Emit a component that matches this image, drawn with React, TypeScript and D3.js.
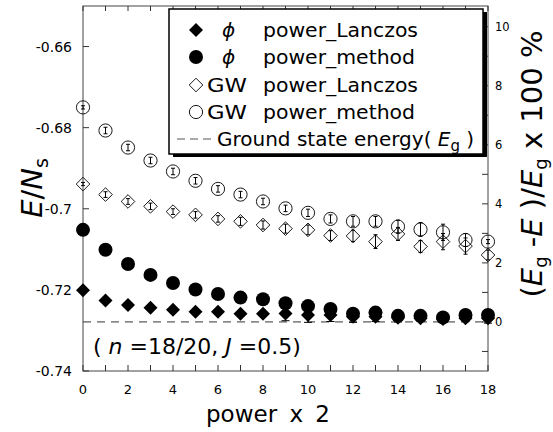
import React from "react";
import * as d3 from "d3";

// ---- data ----
const powerSteps = [0, 1, 2, 3, 4, 5, 6, 7, 8, 9, 10, 11, 12, 13, 14, 15, 16, 17, 18];
const phiLanczos = [-0.7201, -0.7226, -0.7237, -0.7244, -0.7249, -0.7254, -0.7254, -0.7259, -0.7259, -0.7258, -0.7262, -0.7262, -0.7266, -0.7266, -0.7269, -0.727, -0.7272, -0.727, -0.727];
const phiMethod = [-0.7052, -0.7101, -0.7136, -0.7163, -0.7183, -0.7199, -0.721, -0.7219, -0.7223, -0.7233, -0.724, -0.7247, -0.7259, -0.7256, -0.7264, -0.7264, -0.7268, -0.7262, -0.7262];
const gwLanczos = [-0.6939, -0.6965, -0.6982, -0.6994, -0.7007, -0.7015, -0.7025, -0.7031, -0.704, -0.7049, -0.7052, -0.7066, -0.7067, -0.7081, -0.7062, -0.7093, -0.7081, -0.7092, -0.7114];
const gwMethod = [-0.675, -0.6807, -0.6849, -0.6881, -0.6908, -0.6931, -0.6951, -0.6965, -0.6982, -0.6999, -0.701, -0.7025, -0.7031, -0.7031, -0.7044, -0.7051, -0.7058, -0.7077, -0.7081];
const gwLanczosErr = [0.0004, 0.0007, 0.0007, 0.0008, 0.0007, 0.0008, 0.0008, 0.001, 0.001, 0.0011, 0.0012, 0.0012, 0.0014, 0.0017, 0.0016, 0.0015, 0.002, 0.002, 0.0012];
const gwMethodErr = [0.0004, 0.0008, 0.0008, 0.0008, 0.0008, 0.0008, 0.0008, 0.0008, 0.0008, 0.0008, 0.0009, 0.001, 0.0012, 0.0012, 0.0016, 0.0017, 0.002, 0.0016, 0.0005];
const phiLanczosErr = [0, 0, 0, 0, 0, 0, 0, 0, 0, 0.0018, 0.0018, 0.0016, 0.0014, 0.0012, 0.001, 0.0008, 0.0006, 0.0008, 0.0012];
const groundEnergy = -0.7279;

const xTickLabels = [0, 2, 4, 6, 8, 10, 12, 14, 16, 18];
const yTickValues = [-0.74, -0.72, -0.7, -0.68, -0.66];
const yTickLabels = ["-0.74", "-0.72", "-0.7", "-0.68", "-0.66"];
const rightTickValues = [-1, 0, 1, 2, 3, 4, 5, 6, 7, 8, 9, 10];
const rightTickLabels = [0, 2, 4, 6, 8, 10];

const FONT = "'DejaVu Sans', Verdana, sans-serif";

const diamond = (r: number) => `M0,${-r}L${r},0L0,${r}L${-r},0Z`;

export default function App() {
  const left = 83, right = 488, top = 6, bottom = 371;
  const x = d3.scaleLinear().domain([0, 18]).range([left, right]);
  const y = d3.scaleLinear().domain([-0.74, -0.65]).range([bottom, top]);
  const pct = (e: number) => ((groundEnergy - e) / groundEnergy) * 100;
  const yR = d3.scaleLinear().domain([pct(-0.74), pct(-0.65)]).range([bottom, top]);

  const errBar = (xi: number, v: number, e: number, key: string, cap = 2) => {
    if (!e) return null;
    const cx = x(xi), y1 = y(v - e), y2 = y(v + e);
    return (
      <g key={key} stroke="#000" strokeWidth={1}>
        <line x1={cx} x2={cx} y1={y1} y2={y2} />
        <line x1={cx - cap} x2={cx + cap} y1={y1} y2={y1} />
        <line x1={cx - cap} x2={cx + cap} y1={y2} y2={y2} />
      </g>
    );
  };

  return (
    <svg width={553} height={432} style={{ position: "absolute", left: 0, top: 0, background: "#fff" }} fontFamily={FONT}>
      <rect width={553} height={432} fill="#fff" />
      {/* frame */}
      <rect x={left} y={top} width={right - left} height={bottom - top} fill="none" stroke="#444" strokeWidth={1} />
      {/* bottom & top ticks */}
      {powerSteps.map((t) => (
        <g key={"xt" + t} stroke="#333" strokeWidth={1}>
          <line x1={x(t)} x2={x(t)} y1={bottom} y2={bottom - 6} />
          <line x1={x(t)} x2={x(t)} y1={top} y2={top + 5} />
        </g>
      ))}
      {xTickLabels.map((t) => (
        <text key={"xl" + t} x={x(t)} y={394} fontSize={13} textAnchor="middle" fill="#000">{t}</text>
      ))}
      {/* left ticks */}
      {yTickValues.map((v, i) => (
        <g key={"yt" + i}>
          <line x1={left} x2={left + 6} y1={y(v)} y2={y(v)} stroke="#333" />
          <text x={72} y={y(v) + 5} fontSize={14} textAnchor="end" fill="#000">{yTickLabels[i]}</text>
        </g>
      ))}
      {/* right ticks */}
      {rightTickValues.map((p) => (
        <line key={"rt" + p} x1={right} x2={right - 6} y1={yR(p)} y2={yR(p)} stroke="#333" />
      ))}
      {rightTickLabels.map((p) => (
        <text key={"rl" + p} x={495} y={yR(p) + 4} fontSize={11.5} fill="#000">{p}</text>
      ))}

      {/* ground state line */}
      <line x1={left} x2={right} y1={y(groundEnergy)} y2={y(groundEnergy)} stroke="#333" strokeWidth={1} strokeDasharray="8,6" />

      {/* GW power_method open circles */}
      {powerSteps.map((s, i) => (
        <circle key={"gm" + i} cx={x(s)} cy={y(gwMethod[i])} r={6.6} fill="none" stroke="#000" strokeWidth={0.9} />
      ))}
      {powerSteps.map((s, i) => errBar(s, gwMethod[i], gwMethodErr[i], "gme" + i))}
      {/* GW power_Lanczos open diamonds */}
      {powerSteps.map((s, i) => (
        <path key={"gl" + i} d={diamond(6.8)} transform={`translate(${x(s)},${y(gwLanczos[i])})`} fill="none" stroke="#000" strokeWidth={0.9} />
      ))}
      {powerSteps.map((s, i) => errBar(s, gwLanczos[i], gwLanczosErr[i], "gle" + i))}
      {/* phi power_Lanczos filled diamonds */}
      {powerSteps.map((s, i) => errBar(s, phiLanczos[i], phiLanczosErr[i], "ple" + i, 4))}
      {powerSteps.map((s, i) => (
        <path key={"pl" + i} d={diamond(7)} transform={`translate(${x(s)},${y(phiLanczos[i])})`} fill="#000" />
      ))}
      {/* phi power_method filled circles */}
      {powerSteps.map((s, i) => (
        <circle key={"pm" + i} cx={x(s)} cy={y(phiMethod[i])} r={7} fill="#000" />
      ))}

      {/* annotation */}
      <text x={93} y={354} fontSize={22} fill="#000">
        {"( "}<tspan fontStyle="italic">n</tspan>{" =18/20, "}<tspan fontStyle="italic">J</tspan>{" =0.5)"}
      </text>

      {/* legend */}
      <rect x={173} y={12} width={314} height={145} fill="#000" />
      <rect x={169} y={9} width={314} height={145} fill="#fff" stroke="#000" strokeWidth={1.5} />
      <path d={diamond(7)} transform="translate(196,30)" fill="#000" />
      <circle cx={196} cy={57} r={7} fill="#000" />
      <path d={diamond(6.8)} transform="translate(196,85)" fill="none" stroke="#000" strokeWidth={0.9} />
      <circle cx={196} cy={112} r={6.6} fill="none" stroke="#000" strokeWidth={0.9} />
      <line x1={177} x2={215} y1={139} y2={139} stroke="#555" strokeDasharray="8,5" />
      <g fontSize={20} fill="#000">
        <text x={222} y={37} fontStyle="italic">ϕ</text>
        <text x={263} y={37} textLength={155} lengthAdjust="spacingAndGlyphs">power_Lanczos</text>
        <text x={222} y={64} fontStyle="italic">ϕ</text>
        <text x={263} y={64} textLength={152} lengthAdjust="spacingAndGlyphs">power_method</text>
        <text x={207} y={92} textLength={40} lengthAdjust="spacingAndGlyphs">GW</text>
        <text x={263} y={92} textLength={155} lengthAdjust="spacingAndGlyphs">power_Lanczos</text>
        <text x={207} y={119} textLength={40} lengthAdjust="spacingAndGlyphs">GW</text>
        <text x={263} y={119} textLength={152} lengthAdjust="spacingAndGlyphs">power_method</text>
        <text x={217} y={146}>
          {"Ground state energy( "}<tspan fontStyle="italic">E</tspan><tspan fontSize={15} dy={5}>g</tspan><tspan dy={-5}>{" )"}</tspan>
        </text>
      </g>

      {/* axis titles */}
      <text x={268} y={422} fontSize={23} textAnchor="middle" wordSpacing={5} fill="#000">power x 2</text>
      <text transform="translate(42,188) rotate(-90)" fontSize={29} textAnchor="middle" fill="#000">
        <tspan fontStyle="italic">E</tspan>/<tspan fontStyle="italic">N</tspan><tspan fontSize={19} dy={6}>s</tspan>
      </text>
      <text transform="translate(542,164) rotate(-90)" fontSize={29} textAnchor="middle" fill="#000">
        {"("}<tspan fontStyle="italic">E</tspan><tspan fontSize={18} dy={5}>g</tspan><tspan dy={-5}>{" -"}</tspan><tspan fontStyle="italic">E</tspan>{" )/"}<tspan fontStyle="italic">E</tspan><tspan fontSize={18} dy={5}>g</tspan><tspan dy={-5}>{" x 100 %"}</tspan>
      </text>
    </svg>
  );
}
